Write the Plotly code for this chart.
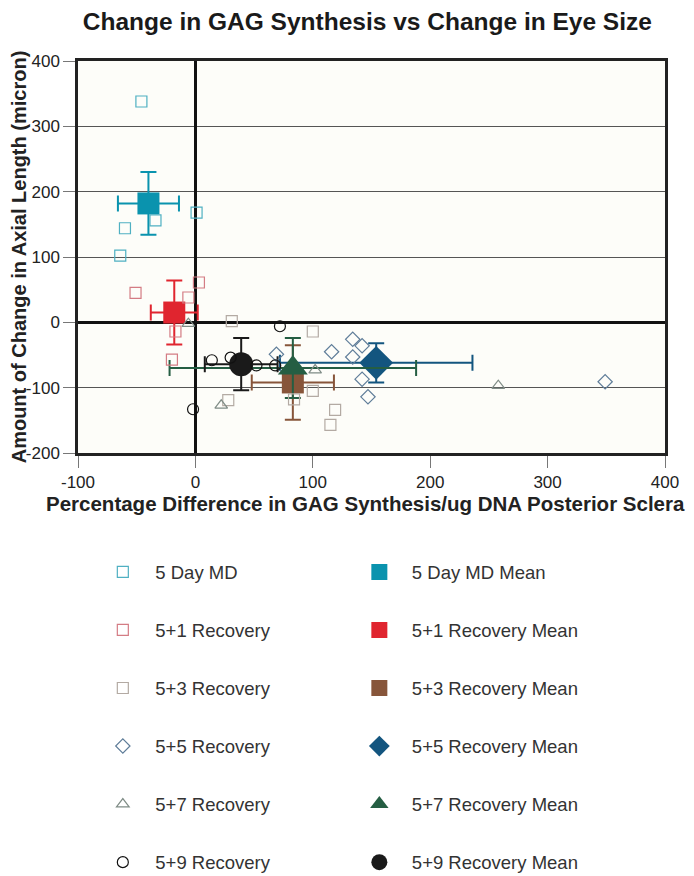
import plotly.graph_objects as go

# ---- data ----
groups = ["5 Day MD", "5+1 Recovery", "5+3 Recovery", "5+5 Recovery", "5+7 Recovery", "5+9 Recovery"]

md5_x = [-46, 1, -34, -60, -64]
md5_y = [338, 168, 156, 144, 102]
r1_x = [-51, 3, -6, -17, -20]
r1_y = [45, 61, 38, -14, -57]
r3_x = [31, 28, 100, 100, 84, 119, 115]
r3_y = [2, -119, -14, -105, -118, -134, -157]
r5_x = [69, 116, 134, 142, 134, 142, 147, 349]
r5_y = [-49, -45, -26, -36, -53, -87, -114, -91]
r7_x = [-6, 22, 102, 258]
r7_y = [-2, -127, -73, -97]
r9_x = [14, 30, 52, 68, -2, 72]
r9_y = [-58, -54, -66, -66, -133, -6]

mean_x = [-40, -18, 83, 154, 83, 39]
mean_y = [182, 15, -92, -62, -70, -64]
mean_xerr = [26, 20, 35, 82, 105, 31]
mean_yerr = [48, 49, 57, 30, 46, 40]

x_ticks = [-100, 0, 100, 200, 300, 400]
y_ticks = [-200, -100, 0, 100, 200, 300, 400]

open_colors = ["#4fb0c2", "#d47c84", "#b3aaa3", "#5f7d99", "#7f8c86", "#111111"]
open_symbols = ["square-open", "square-open", "square-open", "diamond-open", "triangle-up-open", "circle-open"]
mean_colors = ["#0a93ae", "#e0252f", "#87553a", "#13557f", "#255e43", "#1a1a1a"]
mean_symbols = ["square", "square", "square", "diamond", "triangle-up", "circle"]
mean_sizes = [22, 22, 22, 26, 26, 24]

raw = [(md5_x, md5_y), (r1_x, r1_y), (r3_x, r3_y), (r5_x, r5_y), (r7_x, r7_y), (r9_x, r9_y)]

FONT = "Liberation Sans, Arial, sans-serif"

fig = go.Figure()

# means with error bars
for i, g in enumerate(groups):
    fig.add_trace(go.Scatter(
        x=[mean_x[i]], y=[mean_y[i]], mode="markers",
        name=g + " Mean", legend="legend2", legendgroup="m" + str(i),
        marker=dict(symbol=mean_symbols[i], size=mean_sizes[i], color=mean_colors[i],
                    line=dict(width=0)),
        error_x=dict(type="data", array=[mean_xerr[i]], color=mean_colors[i], thickness=2, width=8),
        error_y=dict(type="data", array=[mean_yerr[i]], color=mean_colors[i], thickness=2, width=8),
    ))

# individual points
for i, g in enumerate(groups):
    xs, ys = raw[i]
    fig.add_trace(go.Scatter(
        x=xs, y=ys, mode="markers", name=g, legend="legend", legendgroup="o" + str(i),
        marker=dict(symbol=open_symbols[i], size=11, color=open_colors[i],
                    line=dict(width=1.2, color=open_colors[i])),
    ))

# the page body has an 8px margin, so the figure is offset by 8px in the window
fig.update_layout(
    width=678, height=868,
    margin=dict(l=70, r=21, t=53, b=423, autoexpand=False),
    paper_bgcolor="white", plot_bgcolor="#fdfdf9",
    font=dict(family=FONT, size=17, color="#222"),
    title=dict(text="<b>Change in GAG Synthesis vs Change in Eye Size</b>",
               x=0.530, xanchor="center", y=0.995, yanchor="top",
               font=dict(size=24.5, color="#1a1a1a")),
    showlegend=True,
    legend=dict(x=0.021, xanchor="left", y=-0.256, yanchor="top", orientation="v",
                itemwidth=55, tracegroupgap=31, font=dict(size=18.5, color="#333"),
                bgcolor="rgba(0,0,0,0)"),
    legend2=dict(x=0.458, xanchor="left", y=-0.256, yanchor="top", orientation="v",
                 itemwidth=55, tracegroupgap=31, font=dict(size=18.5, color="#333"),
                 bgcolor="rgba(0,0,0,0)"),
    annotations=[dict(
        text="<b>Percentage Difference in GAG Synthesis/ug DNA Posterior Sclera</b>",
        xref="paper", yref="paper", x=0.489, y=-0.128, xanchor="center", yanchor="middle",
        showarrow=False, font=dict(size=20.5, color="#222"),
    )],
)

fig.update_xaxes(
    range=[-100, 400], tickvals=x_ticks, ticktext=[str(v) for v in x_ticks],
    showgrid=False, zeroline=True, zerolinecolor="#111", zerolinewidth=2.5,
    showline=True, linecolor="#222", linewidth=2.5, mirror=True,
    ticks="outside", ticklen=12, tickcolor="#777", tickwidth=1,
    tickfont=dict(size=17, color="#222"), automargin=False,
)
fig.update_yaxes(
    range=[-200, 400], tickvals=y_ticks, ticktext=[str(v) for v in y_ticks],
    showgrid=True, gridcolor="#555", gridwidth=1,
    zeroline=True, zerolinecolor="#111", zerolinewidth=2.5,
    showline=True, linecolor="#222", linewidth=2.5, mirror=True,
    ticks="outside", ticklen=12, tickcolor="#777", tickwidth=1,
    tickfont=dict(size=17, color="#222"), automargin=False,
    title=dict(text="<b>Amount of Change in Axial Length (micron)</b>",
               font=dict(size=20, color="#222"), standoff=0),
)

fig.write_html("out.html")
